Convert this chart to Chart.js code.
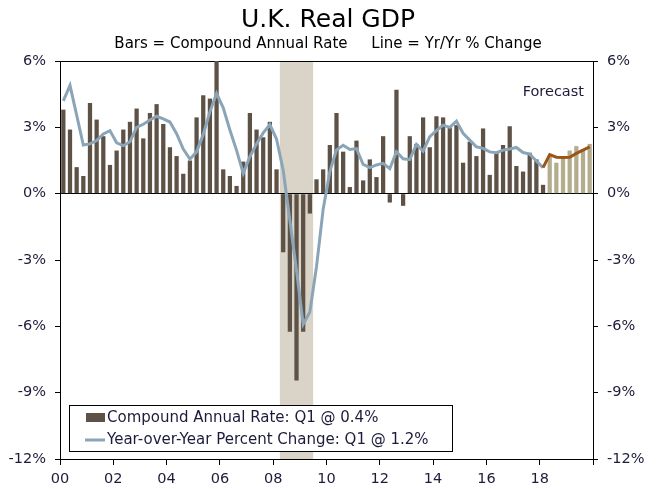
<!DOCTYPE html>
<html>
<head>
<meta charset="utf-8">
<title>U.K. Real GDP</title>
<script src="https://cdn.jsdelivr.net/npm/chart.js@4.4.0/dist/chart.umd.min.js"></script>
<style>
  html, body { margin: 0; padding: 0; background: #fff; }
  #wrap { width: 656px; height: 489px; }
</style>
</head>
<body>
<div id="wrap"><canvas id="gdp"></canvas></div>
<script>
// Quarterly, 2000 Q1 .. 2019 Q4. Forecast starts 2018 Q2.
const yearLabels = ['00', '02', '04', '06', '08', '10', '12', '14', '16', '18'];

// Compound annual rate, 2000 Q1 .. 2018 Q1
const rateActual = [
  3.8, 2.9, 1.2, 0.8, 4.1, 3.35, 2.6, 1.3,
  1.95, 2.9, 3.25, 3.85, 2.5, 3.65, 4.05, 3.15,
  2.1, 1.7, 0.9, 1.5, 3.45, 4.45, 4.3, 6.1,
  1.1, 0.8, 0.35, 1.45, 3.65, 2.9, 2.55, 3.25,
  1.1, -2.65, -6.25, -8.45, -6.25, -0.9, 0.65, 1.1,
  2.2, 3.65, 1.9, 0.3, 2.4, 0.6, 1.55, 0.75,
  2.6, -0.4, 4.7, -0.55, 2.6, 2.25, 3.45, 2.1,
  3.5, 3.45, 3.0, 3.1, 1.4, 2.35, 1.7, 2.95,
  0.85, 1.85, 2.2, 3.05, 1.25, 1.0, 1.85, 1.55,
  0.4,
];
// 2018 Q2 .. 2019 Q4
const rateForecast = [1.7, 1.4, 1.6, 1.95, 2.15, 2.0, 2.25];

// Year-over-year percent change, 2000 Q1 .. 2018 Q1
const yoyActual = [
  4.2, 4.9, 3.55, 2.2, 2.25, 2.4, 2.7, 2.85,
  2.3, 2.17, 2.35, 3.0, 3.14, 3.33, 3.5, 3.38,
  3.24, 2.71, 2.02, 1.56, 1.89, 2.68, 3.7, 4.53,
  3.88, 2.88, 1.96, 0.92, 1.67, 2.25, 2.75, 3.12,
  2.47, 1.06, -1.2, -3.47, -5.9, -5.35, -3.3, -0.7,
  1.0, 1.98, 2.19, 2.0, 2.04, 1.32, 1.18, 1.3,
  1.37, 1.13, 1.9, 1.58, 1.54, 2.23, 1.92, 2.58,
  2.85, 3.1, 3.0, 3.28, 2.73, 2.42, 2.12, 2.05,
  1.89, 1.85, 1.97, 2.02, 2.09, 1.86, 1.79, 1.48,
  1.18,
];
const yoyForecast = [1.77, 1.65, 1.64, 1.65, 1.82, 1.97, 2.12];

// recession shading, in quarter index units (2008 Q2 .. 2009 Q2)
const recession = [33, 38];

const BAR = '#5e5247';
const BAR_FC = '#b3ad8e';
const LINE = '#8ba5b8';
const LINE_FC = '#9c5418';
const TEXT = '#1c1c3a';
const FONT = '"DejaVu Sans", Verdana, sans-serif';

const toPoints = (arr) => arr.map((v, i) => ({ x: i + 0.5, y: v }));
const rateAll = rateActual.concat(rateForecast);
const yoyAll = yoyActual.concat(yoyForecast);

Chart.defaults.font.family = FONT;
Chart.defaults.font.size = 14.5;
Chart.defaults.color = TEXT;

const recessionShade = {
  id: 'recessionShade',
  beforeDraw(chart) {
    const { ctx, chartArea, scales } = chart;
    const x0 = scales.x.getPixelForValue(recession[0]);
    const x1 = scales.x.getPixelForValue(recession[1]);
    ctx.save();
    ctx.fillStyle = '#d9d4c7';
    ctx.fillRect(x0, chartArea.top, x1 - x0, chartArea.bottom - chartArea.top);
    ctx.restore();
  },
};

const boxLegend = {
  id: 'boxLegend',
  afterDraw(chart) {
    const { ctx, chartArea, scales } = chart;
    const ds = chart.data.datasets;
    const left = chartArea.left + 9;
    const top = chartArea.bottom - 54;
    ctx.save();
    ctx.fillStyle = '#fff';
    ctx.fillRect(left, top, 383, 46);
    ctx.strokeStyle = '#000';
    ctx.lineWidth = 1;
    ctx.strokeRect(Math.round(left) + 0.5, Math.round(top) + 0.5, 383, 46);

    ctx.font = '15px ' + FONT;
    ctx.textBaseline = 'middle';
    ctx.textAlign = 'left';

    ctx.fillStyle = BAR;
    ctx.fillRect(left + 17, top + 8, 19, 9);
    ctx.fillStyle = TEXT;
    ctx.fillText(ds[0].label, left + 38, top + 13);

    ctx.strokeStyle = LINE;
    ctx.lineWidth = 3;
    ctx.beginPath();
    ctx.moveTo(left + 16, top + 35);
    ctx.lineTo(left + 36, top + 35);
    ctx.stroke();
    ctx.fillStyle = TEXT;
    ctx.fillText(ds[1].label, left + 38, top + 35);

    // forecast note
    ctx.font = '14.5px ' + FONT;
    ctx.textAlign = 'right';
    ctx.fillText('Forecast', chartArea.right - 9, scales.y.getPixelForValue(4.6));
    ctx.restore();
  },
};

new Chart(document.getElementById('gdp'), {
  type: 'bar',
  data: {
    datasets: [
      {
        type: 'bar',
        label: 'Compound Annual Rate: Q1 @ 0.4%',
        data: toPoints(rateAll),
        backgroundColor: (c) => (c.dataIndex >= rateActual.length ? BAR_FC : BAR),
        barPercentage: 0.64,
        categoryPercentage: 1,
        yAxisID: 'y',
        order: 2,
      },
      {
        type: 'line',
        label: 'Year-over-Year Percent Change: Q1 @ 1.2%',
        data: toPoints(yoyAll),
        borderColor: LINE,
        segment: {
          borderColor: (c) => (c.p0DataIndex >= yoyActual.length - 1 ? LINE_FC : undefined),
        },
        borderWidth: 3,
        pointRadius: 0,
        tension: 0,
        yAxisID: 'y',
        order: 1,
      },
    ],
  },
  options: {
    responsive: true,
    maintainAspectRatio: false,
    animation: false,
    layout: { padding: 0 },
    plugins: {
      legend: { display: false },
      tooltip: { enabled: false },
      title: {
        display: true,
        text: 'U.K. Real GDP',
        color: '#000',
        font: { size: 25, weight: 'normal' },
        padding: { top: 5, bottom: 0 },
      },
      subtitle: {
        display: true,
        text: 'Bars = Compound Annual Rate     Line = Yr/Yr % Change',
        color: '#000',
        font: { size: 15 },
        padding: { top: 0, bottom: 8 },
      },
    },
    scales: {
      x: {
        type: 'linear',
        min: 0,
        max: yearLabels.length * 8,
        offset: false,
        grid: { offset: false, drawOnChartArea: false, tickLength: 6, color: '#000' },
        border: { color: '#000' },
        ticks: {
          stepSize: 8,
          padding: 6,
          maxRotation: 0,
          autoSkip: false,
          callback: (v) => yearLabels[v / 8] ?? '',
        },
        afterFit: (s) => { s.height = 30; },
      },
      y: {
        position: 'left',
        min: -12,
        max: 6,
        ticks: { stepSize: 3, padding: 9, callback: (v) => v + '%' },
        grid: {
          color: (c) => (c.tick && (c.tick.value === 0 || c.tick.value === 6) ? '#000' : 'rgba(0,0,0,0)'),
          tickColor: '#000',
          tickLength: 5,
        },
        border: { color: '#000' },
        afterFit: (s) => { s.width = 60; },
      },
      y2: {
        position: 'right',
        min: -12,
        max: 6,
        ticks: { stepSize: 3, padding: 9, callback: (v) => v + '%' },
        grid: { drawOnChartArea: false, tickColor: '#000', tickLength: 5 },
        border: { color: '#000' },
        afterFit: (s) => { s.width = 63; },
      },
    },
  },
  plugins: [recessionShade, boxLegend],
});
</script>
</body>
</html>
